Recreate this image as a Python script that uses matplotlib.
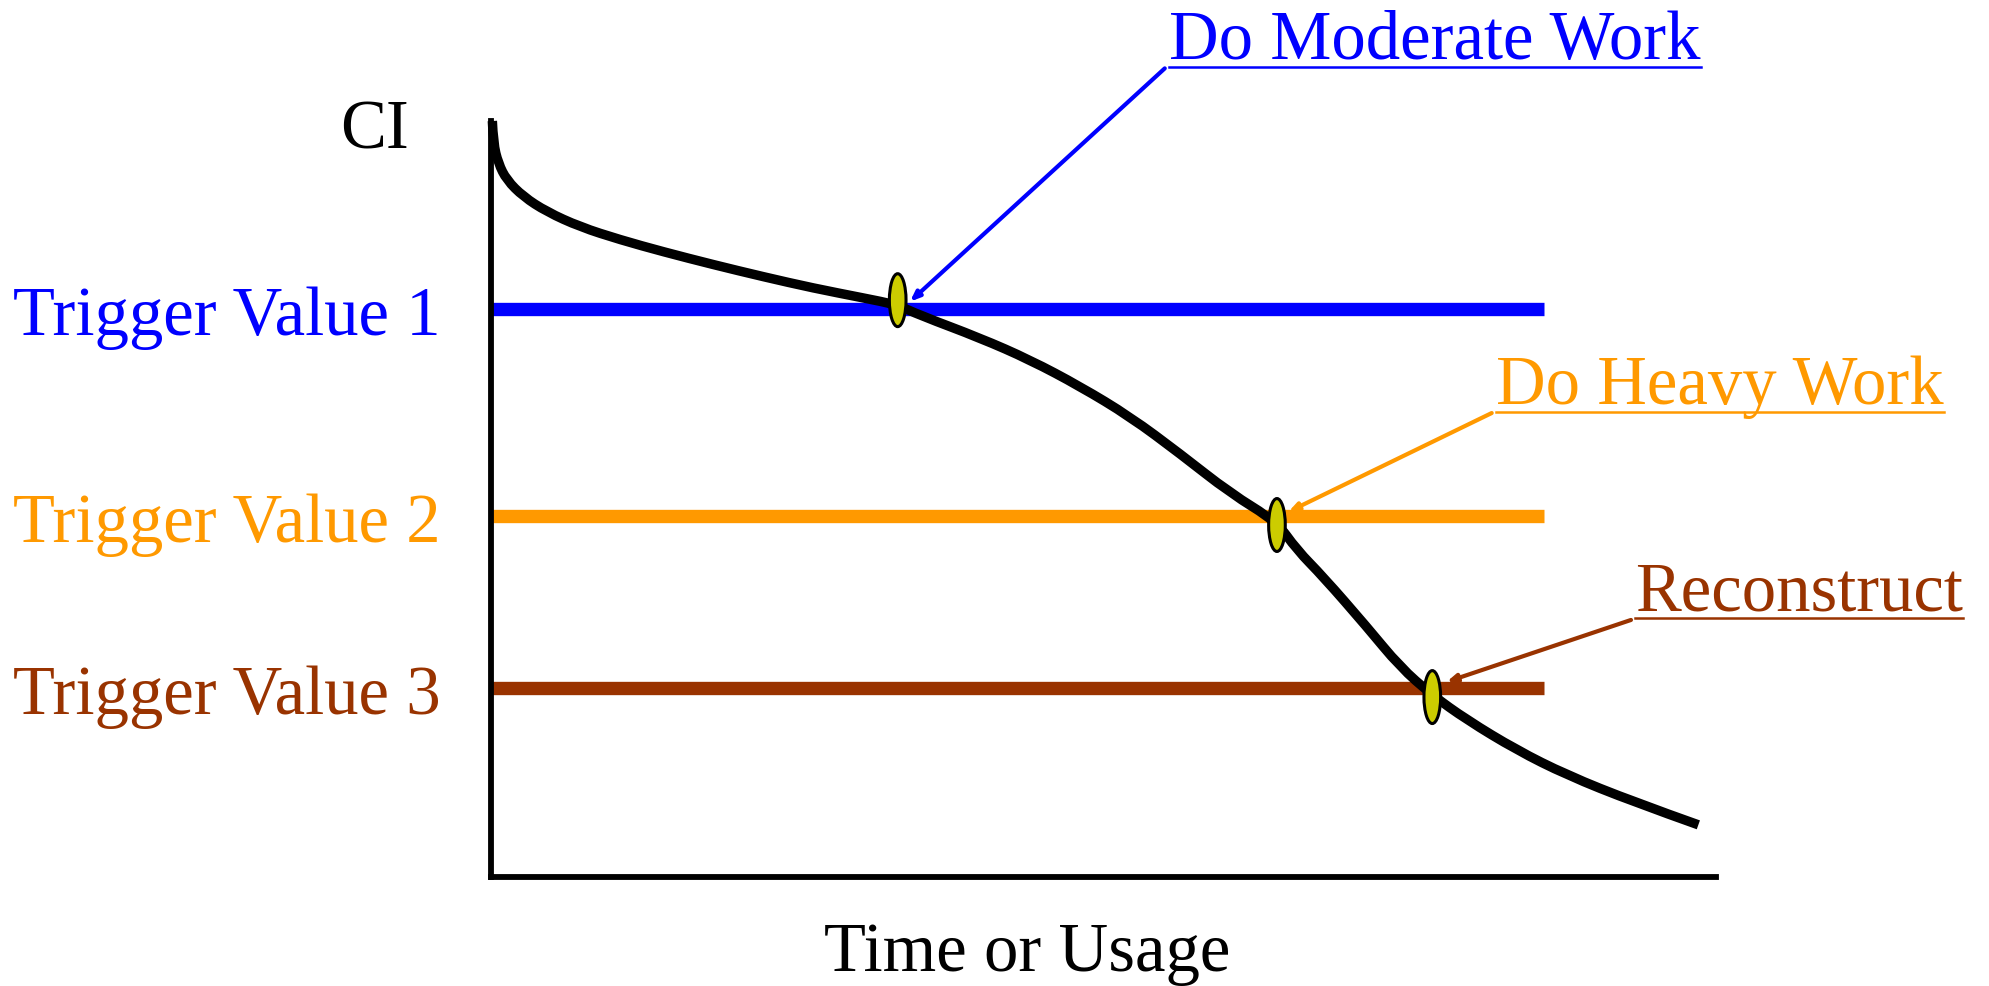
import matplotlib
matplotlib.use("Agg")
from matplotlib import pyplot as plt
from matplotlib.patches import Ellipse, PathPatch
from matplotlib.path import Path

plt.rcParams['font.family'] = ['Liberation Serif', 'DejaVu Serif']

# condition index curve (time/usage 0..100, CI 0..100)
curve_x = [0.11, 0.19, 0.60, 1.28, 2.64, 4.55, 7.27, 10.53, 14.07, 18.15, 22.23,
           26.31, 30.39, 33.12, 35.02, 39.92, 44.0, 48.08, 52.16, 56.24, 60.33,
           64.14, 65.77, 67.94, 71.49, 74.2, 76.8, 79.65, 83.73, 87.81, 93.25, 98.56]
curve_y = [100, 97.1, 94.4, 92.2, 90.0, 88.0, 86.0, 84.3, 82.7, 81.0, 79.4,
           77.9, 76.6, 75.7, 74.3, 71.3, 68.4, 64.9, 60.9, 56.0, 50.8,
           47.0, 43.3, 39.7, 33.1, 27.8, 24.1, 20.8, 16.8, 13.5, 9.96, 6.9]

trigger_labels = ['Trigger Value 1', 'Trigger Value 2', 'Trigger Value 3']
trigger_values = [75.13, 47.75, 25.0]
trigger_end = 85.96
trigger_colors = ['#0000ff', '#ff9900', '#993300']

cross_x = [33.2, 64.16, 76.84]
cross_y = [76.3, 46.56, 23.8]

action_labels = ['Do Moderate Work', 'Do Heavy Work', 'Reconstruct']
action_text_xy = [(55.35, 108.16), (82.04, 62.57), (93.41, 35.2)]
arrow_tip = [(34.2, 76.1), (65.09, 48.3), (78.0, 25.8)]

fs = 49.5

fig = plt.figure(figsize=(19.9, 9.86), dpi=100)
ax = fig.add_axes([491 / 1990, 1 - 877 / 986, (1716 - 491) / 1990, (877 - 121) / 986])
ax.set_xlim(0, 100)
ax.set_ylim(0, 100)
for s in ['top', 'right']:
    ax.spines[s].set_visible(False)
for s in ['left', 'bottom']:
    ax.spines[s].set_linewidth(4.2)
    ax.spines[s].set_capstyle('projecting')
ax.set_xticks([])
ax.set_yticks([])

for lab, v, c in zip(trigger_labels, trigger_values, trigger_colors):
    ax.plot([0, trigger_end], [v, v], color=c, lw=9.6, solid_capstyle='butt', zorder=2)
    ax.text(-4.1, v - 3.4, lab, color=c, fontsize=fs, ha='right', va='baseline')

# smooth the read points with quadratic segments (points act as control points)
pts = list(zip(curve_x, curve_y))
verts = [pts[0]]
codes = [Path.MOVETO]
for i in range(1, len(pts) - 1):
    if i == len(pts) - 2:
        end = pts[-1]
    else:
        end = ((pts[i][0] + pts[i + 1][0]) / 2, (pts[i][1] + pts[i + 1][1]) / 2)
    verts += [pts[i], end]
    codes += [Path.CURVE3, Path.CURVE3]
ax.add_patch(PathPatch(Path(verts, codes), facecolor='none', edgecolor='black',
                       lw=6.8, zorder=3, clip_on=False, capstyle='butt'))

for x, y in zip(cross_x, cross_y):
    ax.add_patch(Ellipse((x, y), 1.36, 7.0, facecolor='#cccc00', edgecolor='black',
                         lw=2.2, zorder=4))

ax.text(-6.7, 96.3, 'CI', fontsize=fs, ha='right', va='baseline')
ax.text(43.8, -12.4, 'Time or Usage', fontsize=fs, ha='center', va='baseline')

fig.canvas.draw()
r = fig.canvas.get_renderer()
inv = ax.transData.inverted()
for lab, (tx, ty), tip, c in zip(action_labels, action_text_xy, arrow_tip, trigger_colors):
    t = ax.text(tx, ty, lab, color=c, fontsize=fs, ha='left', va='baseline', clip_on=False)
    bb = t.get_window_extent(r)
    x1 = inv.transform((bb.x1, bb.y0))[0]
    uy = ty - 1.0
    ax.plot([tx, x1], [uy, uy], color=c, lw=1.8, clip_on=False)
    ax.annotate('', xy=tip, xytext=(tx - 0.35, uy - 0.2),
                arrowprops=dict(arrowstyle='-|>,head_length=0.55,head_width=0.22',
                                color=c, lw=3.0, shrinkA=0, shrinkB=0),
                annotation_clip=False)

fig.savefig('out.png', dpi=100)
